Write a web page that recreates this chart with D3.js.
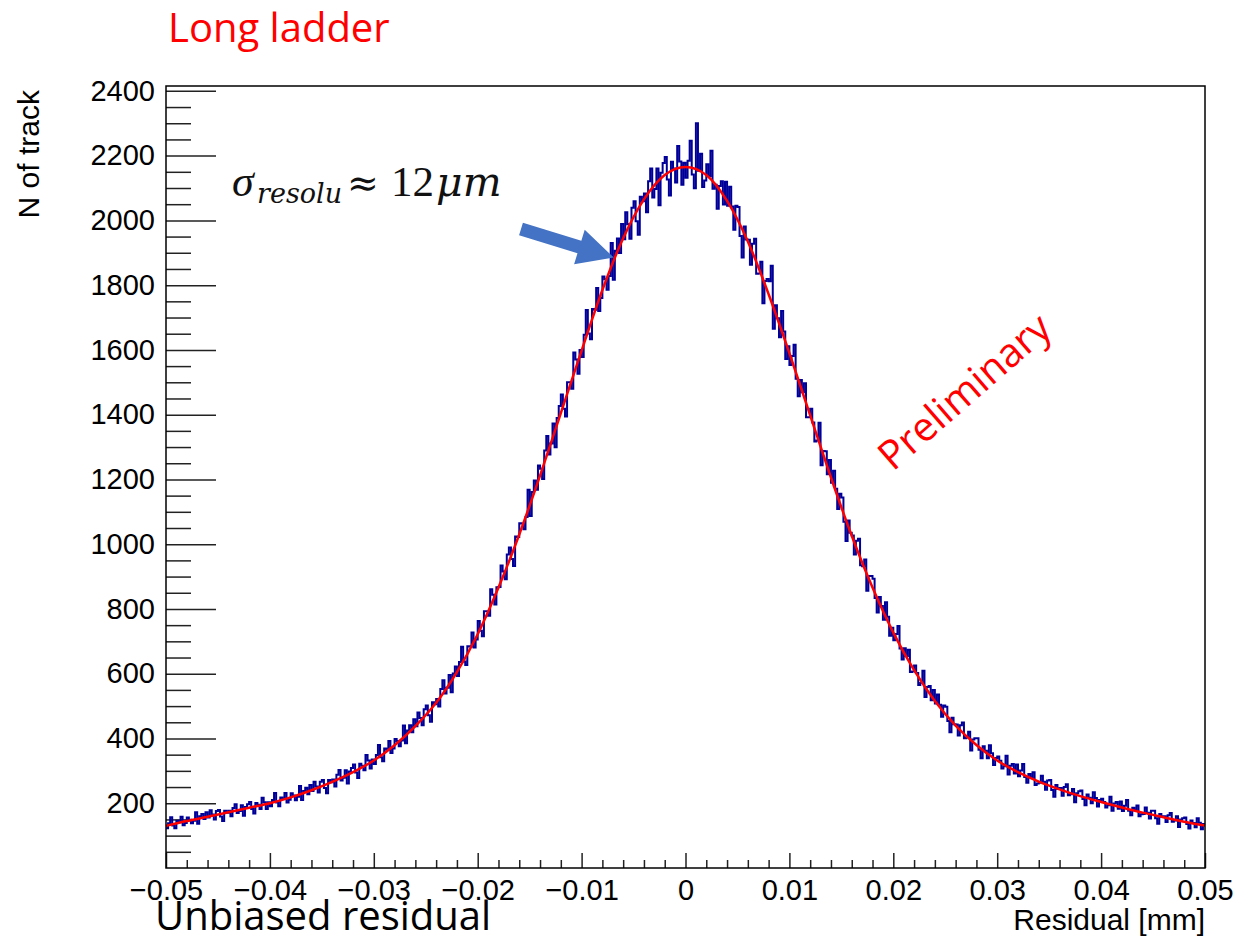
<!DOCTYPE html>
<html>
<head>
<meta charset="utf-8">
<script src="https://cdn.jsdelivr.net/npm/d3@7"></script>
<style>
  body { margin: 0; background: #fff; }
  svg { display: block; }
  .axis text { font-family: "Liberation Sans", Arial, sans-serif; font-size: 29px; fill: #000; }
  .axis line { stroke: #222; stroke-width: 1.5; }
</style>
</head>
<body>
<svg id="chart" width="1239" height="942"></svg>
<script>
// residual histogram, 500 bins from -0.05 to 0.05 mm (10 bins per row)
const xRange = [-0.05, 0.05]
const counts = [
  123, 138, 157, 131, 123, 146, 141, 158, 132, 139,
  156, 149, 138, 146, 172, 137, 160, 167, 151, 172,
  156, 178, 165, 150, 176, 179, 159, 145, 177, 171,
  177, 160, 185, 197, 170, 176, 194, 161, 188, 197,
  204, 182, 168, 201, 195, 182, 217, 203, 182, 203,
  191, 210, 232, 202, 191, 218, 213, 232, 202, 211,
  231, 224, 209, 220, 253, 210, 238, 248, 228, 256,
  238, 266, 252, 233, 266, 272, 247, 231, 272, 265,
  273, 252, 288, 303, 270, 279, 302, 261, 298, 309,
  320, 295, 278, 322, 316, 302, 349, 332, 307, 335,
  321, 349, 380, 342, 330, 369, 365, 392, 355, 369,
  398, 392, 376, 394, 440, 385, 425, 441, 419, 459,
  438, 480, 463, 441, 490, 502, 472, 452, 512, 506,
  522, 499, 553, 580, 539, 557, 596, 543, 601, 622,
  593, 636, 683, 638, 627, 685, 684, 727, 681, 706,
  763, 733, 716, 793, 793, 779, 861, 844, 814, 867,
  868, 934, 916, 892, 968, 990, 954, 933, 1024, 1022,
  1065, 1064, 1046, 1084, 1168, 1087, 1161, 1197, 1168, 1243,
  1233, 1201, 1289, 1334, 1277, 1311, 1373, 1299, 1390, 1427,
  1462, 1418, 1394, 1500, 1500, 1480, 1592, 1570, 1526, 1600,
  1578, 1647, 1723, 1651, 1633, 1726, 1724, 1791, 1720, 1760,
  1827, 1818, 1786, 1828, 1930, 1817, 1906, 1944, 1899, 1989,
  1942, 2025, 1988, 1943, 2039, 2059, 1997, 1956, 2073, 2059,
  2083, 2025, 2121, 2160, 2071, 2097, 2160, 2047, 2147, 2177,
  2196, 2126, 2077, 2181, 2160, 2117, 2230, 2182, 2110, 2178,
  2132, 2184, 2246, 2142, 2099, 2300, 2153, 2206, 2103, 2123,
  2173, 2137, 2215, 2098, 2110, 2036, 2106, 2121, 2049, 2119,
  2045, 2104, 2043, 1971, 2045, 2041, 1952, 1885, 1981, 1941,
  1940, 1863, 1928, 1943, 1835, 1836, 1872, 1744, 1813, 1819,
  1812, 1860, 1665, 1738, 1698, 1639, 1720, 1657, 1572, 1611,
  1553, 1581, 1616, 1511, 1457, 1507, 1469, 1497, 1392, 1392,
  1418, 1376, 1317, 1320, 1375, 1244, 1288, 1287, 1216, 1260,
  1190, 1227, 1171, 1109, 1156, 1144, 1069, 1010, 1073, 1035,
  1027, 968, 1011, 1017, 935, 932, 953, 856, 902, 902,
  893, 834, 789, 837, 809, 767, 821, 776, 717, 742,
  703, 723, 747, 678, 644, 679, 655, 674, 605, 607,
  625, 602, 565, 571, 609, 528, 559, 562, 518, 550,
  508, 536, 504, 467, 502, 498, 454, 419, 464, 444,
  443, 409, 441, 449, 401, 403, 421, 363, 397, 401,
  401, 365, 339, 376, 362, 339, 379, 354, 318, 340,
  344, 331, 307, 314, 347, 289, 316, 321, 292, 320,
  283, 301, 321, 281, 263, 290, 279, 296, 256, 261,
  263, 285, 266, 242, 270, 272, 241, 220, 256, 244,
  247, 223, 250, 259, 225, 228, 244, 203, 231, 237,
  239, 213, 194, 227, 217, 200, 234, 216, 190, 210,
  214, 204, 187, 194, 220, 177, 199, 204, 183, 205,
  176, 192, 210, 177, 163, 186, 178, 193, 160, 166,
  167, 187, 171, 153, 177, 177, 154, 137, 167, 158,
  160, 142, 163, 170, 143, 147, 160, 127, 150, 154,
  156, 136, 122, 147, 139, 126, 154, 140, 120, 136
]

// fit curve, sampled every 0.002 mm
const fitStep = 0.002
const fitValues = [
  130, 145, 158, 172, 186, 200, 218, 240, 266, 296,
  332, 379, 438, 510, 605, 722, 866, 1030, 1212, 1405,
  1598, 1785, 1945, 2065, 2140, 2165, 2140, 2060, 1935, 1772,
  1590, 1398, 1206, 1026, 866, 727, 611, 516, 440, 380,
  332, 296, 267, 243, 222, 204, 187, 171, 157, 143, 131
]

const xTicks = [-0.05, -0.04, -0.03, -0.02, -0.01, 0, 0.01, 0.02, 0.03, 0.04, 0.05]
const xTickLabels = ['\u22120.05', '\u22120.04', '\u22120.03', '\u22120.02', '\u22120.01', '0', '0.01', '0.02', '0.03', '0.04', '0.05']
const yTicks = [200, 400, 600, 800, 1000, 1200, 1400, 1600, 1800, 2000, 2200, 2400]
const yMax = 2415

const margin = {top: 86, left: 166}
const width = 1039
const height = 782

const x = d3.scaleLinear().domain(xRange).range([0, width])
const y = d3.scaleLinear().domain([0, yMax]).range([height, 0])

const svg = d3.select('#chart')
svg.append('rect').attr('width', 1239).attr('height', 942).attr('fill', '#fff')

const g = svg.append('g')
  .attr('transform', 'translate(' + margin.left + ',' + margin.top + ')')

// minor ticks
const xMinor = d3.range(-0.05, 0.0501, 0.002).filter(v => Math.abs(Math.round(v * 100) - v * 100) > 1e-6)
const yMinor = d3.range(50, yMax, 50).filter(v => v % 200 !== 0)

g.append('g')
  .attr('class', 'axis')
  .attr('transform', 'translate(0,' + height + ')')
  .call(d3.axisBottom(x).tickValues(xMinor).tickSize(-8).tickFormat(''))
  .call(a => a.select('.domain').remove())

g.append('g')
  .attr('class', 'axis')
  .call(d3.axisLeft(y).tickValues(yMinor).tickSize(-25).tickFormat(''))
  .call(a => a.select('.domain').remove())

// major ticks + labels
g.append('g')
  .attr('class', 'axis')
  .attr('transform', 'translate(0,' + height + ')')
  .call(d3.axisBottom(x).tickValues(xTicks).tickSize(-15).tickPadding(11)
    .tickFormat((d, i) => xTickLabels[i]))
  .call(a => a.select('.domain').remove())

g.append('g')
  .attr('class', 'axis')
  .call(d3.axisLeft(y).tickValues(yTicks).tickSize(-50).tickPadding(11)
    .tickFormat(d => d))
  .call(a => a.select('.domain').remove())

// histogram outline
const binW = (xRange[1] - xRange[0]) / counts.length
const steps = counts.map((c, i) => [xRange[0] + i * binW, c])
steps.push([xRange[1], counts[counts.length - 1]])

g.append('path')
  .datum(steps)
  .attr('fill', 'none')
  .attr('stroke', '#000099')
  .attr('stroke-width', 2)
  .attr('d', d3.line().x(d => x(d[0])).y(d => y(d[1])).curve(d3.curveStepAfter))

// fit
g.append('path')
  .datum(fitValues)
  .attr('fill', 'none')
  .attr('stroke', '#ff0000')
  .attr('stroke-width', 2.5)
  .attr('d', d3.line().x((d, i) => x(xRange[0] + i * fitStep)).y(d => y(d)).curve(d3.curveMonotoneX))

// frame
g.append('rect')
  .attr('width', width).attr('height', height)
  .attr('fill', 'none').attr('stroke', '#000').attr('stroke-width', 1.5)

// axis titles
svg.append('text')
  .attr('x', 1205).attr('y', 930)
  .attr('text-anchor', 'end')
  .style('font-family', '"Liberation Sans", Arial, sans-serif')
  .style('font-size', '30px')
  .text('Residual [mm]')

svg.append('text')
  .attr('transform', 'translate(39,90) rotate(-90)')
  .attr('text-anchor', 'end')
  .style('font-family', '"Liberation Sans", Arial, sans-serif')
  .style('font-size', '30px')
  .text('N of track')

// slide annotations
svg.append('text')
  .attr('x', 168).attr('y', 42)
  .attr('fill', '#ff0000')
  .style('font-family', '"Open Sans", sans-serif')
  .style('font-size', '40px')
  .text('Long ladder')

svg.append('text')
  .attr('x', 155).attr('y', 930)
  .attr('fill', '#000')
  .style('font-family', '"Open Sans", sans-serif')
  .style('font-size', '40px')
  .text('Unbiased residual')

svg.append('text')
  .attr('transform', 'translate(893,472) rotate(-41)')
  .attr('fill', '#ff0000')
  .style('font-family', '"Open Sans", sans-serif')
  .style('font-size', '40px')
  .text('Preliminary')

// sigma label (math style)
const serif = '"Liberation Serif", serif'
const dvSerif = '"DejaVu Serif", serif'
const sig = svg.append('text').attr('fill', '#111')
sig.append('tspan').attr('x', 232).attr('y', 196)
  .style('font-family', serif).style('font-style', 'italic').style('font-size', '44px')
  .text('\u03c3')
sig.append('tspan').attr('x', 257).attr('y', 203)
  .style('font-family', dvSerif).style('font-style', 'italic').style('font-size', '27px')
  .text('resolu')
sig.append('tspan').attr('x', 347).attr('y', 196)
  .style('font-family', dvSerif).style('font-size', '38px')
  .text('\u2248')
sig.append('tspan').attr('x', 391).attr('y', 196)
  .style('font-family', serif).style('font-size', '43px')
  .text('12')
sig.append('tspan').attr('x', 436).attr('y', 196)
  .style('font-family', dvSerif).style('font-style', 'italic').style('font-size', '41px')
  .text('\u03bcm')

// arrow pointing at the curve
const tip = [margin.left + x(-0.0069), margin.top + y(1885)]
const tail = [521, 229]
const len = Math.hypot(tip[0] - tail[0], tip[1] - tail[1])
const ang = Math.atan2(tip[1] - tail[1], tip[0] - tail[0]) * 180 / Math.PI
const headL = 36, headW = 18, shaftW = 6.5
svg.append('path')
  .attr('transform', 'translate(' + tail[0] + ',' + tail[1] + ') rotate(' + ang + ')')
  .attr('fill', '#4472c4')
  .attr('d', 'M0,' + (-shaftW) + 'L' + (len - headL) + ',' + (-shaftW) +
    'L' + (len - headL) + ',' + (-headW) + 'L' + len + ',0L' + (len - headL) + ',' + headW +
    'L' + (len - headL) + ',' + shaftW + 'L0,' + shaftW + 'Z')
</script>
</body>
</html>
